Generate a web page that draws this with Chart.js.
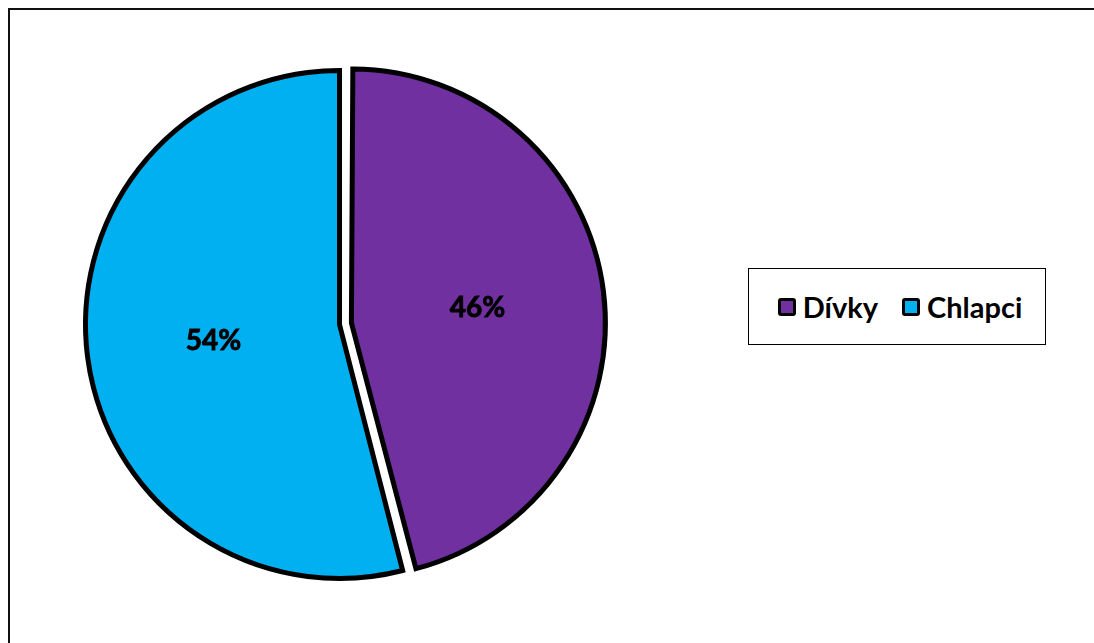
<!DOCTYPE html>
<html>
<head>
<meta charset="utf-8">
<script src="https://cdn.jsdelivr.net/npm/chart.js@4/dist/chart.umd.min.js"></script>
<style>
    body { margin: 0; background: #fff; overflow: hidden; font-family: Lato, "Open Sans", sans-serif; }
    #frame { position: absolute; left: 8px; top: 8px; width: 1200px; height: 800px; border: 2px solid #111; }
    #pie { position: absolute; left: 0; top: 0; }
    #legend {
        position: absolute; left: 748px; top: 268px; width: 298px; height: 77px;
        border: 1.5px solid #000; background: #fff;
        display: flex; align-items: center; justify-content: center;
        font-weight: bold; font-size: 29px; color: #000; padding-left: 6px; box-sizing: border-box;
    }
    .item { display: flex; align-items: center; margin: 0 12px; }
    .box { width: 12px; height: 12px; border: 3.5px solid #000; border-radius: 3px; margin-right: 7px; }
</style>
</head>
<body>
<div id="frame"></div>
<canvas id="pie" width="1094" height="643"></canvas>
<div id="legend"></div>

<script>
// data
const categories = ['Dívky', 'Chlapci'];
const shares = [46, 54];

const sliceColors = ['#7030A0', '#00B0F0'];

// Chart.js grows an offset slice a bit, pull it back so both slices keep the same radius
// and write the percentages into the slices
const sliceLabels = {
    id: 'sliceLabels',
    afterDatasetUpdate(chart, args) {
        args.meta.data.forEach(arc => {
            const off = (arc.options.offset || 0) / 4;
            const fix = 1 - Math.sin(Math.min(Math.PI, arc.endAngle - arc.startAngle));
            arc.baseRadius = arc.outerRadius;
            arc.outerRadius -= off * fix;
        });
    },
    afterDatasetsDraw(chart) {
        const ctx = chart.ctx;
        const meta = chart.getDatasetMeta(0);
        ctx.save();
        ctx.font = 'bold 28px Lato';
        ctx.fillStyle = '#000';
        ctx.textAlign = 'center';
        ctx.textBaseline = 'alphabetic';
        meta.data.forEach((arc, i) => {
            const mid = (arc.startAngle + arc.endAngle) / 2;
            const d = arc.baseRadius / 2 + (arc.options.offset || 0) / 4;
            const x = arc.x + Math.cos(mid) * d;
            const y = arc.y + Math.sin(mid) * d;
            ctx.lineWidth = 0.8;
            ctx.strokeStyle = '#000';
            ctx.strokeText(shares[i] + '%', x, y + 10);
            ctx.fillText(shares[i] + '%', x, y + 10);
        });
        ctx.restore();
    }
};

new Chart(document.getElementById('pie').getContext('2d'), {
    type: 'pie',
    data: {
        labels: categories,
        datasets: [{
            data: shares,
            backgroundColor: sliceColors,
            borderColor: '#000',
            borderWidth: 5,
            hoverBorderWidth: 5,
            borderJoinStyle: 'miter',
            offset: [48, 0],
            hoverOffset: 0
        }]
    },
    options: {
        responsive: false,
        animation: false,
        events: [],
        layout: { padding: { left: 59, right: 474, top: 44, bottom: 38 } },
        plugins: {
            legend: { display: false },
            tooltip: { enabled: false }
        }
    },
    plugins: [sliceLabels]
});

// legend box
const legend = document.getElementById('legend');
categories.forEach((name, i) => {
    const item = document.createElement('div');
    item.className = 'item';
    const box = document.createElement('span');
    box.className = 'box';
    box.style.background = sliceColors[i];
    const txt = document.createElement('span');
    txt.textContent = name;
    item.appendChild(box);
    item.appendChild(txt);
    legend.appendChild(item);
});
</script>
</body>
</html>
